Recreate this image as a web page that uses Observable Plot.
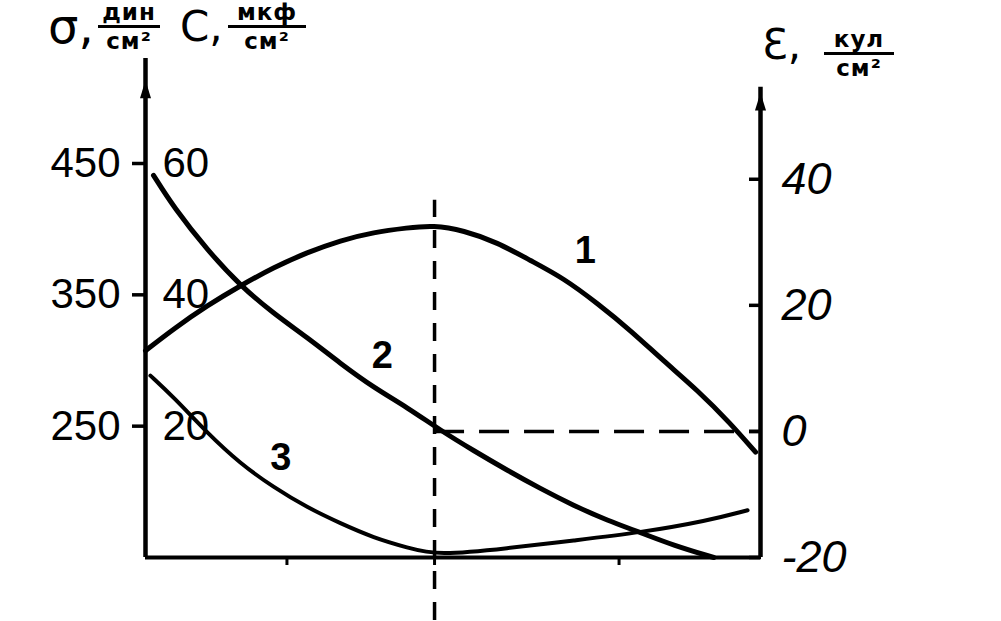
<!DOCTYPE html>
<html>
<head>
<meta charset="utf-8">
<script src="https://cdn.jsdelivr.net/npm/d3@7"></script>
<script src="https://cdn.jsdelivr.net/npm/@observablehq/plot@0.6"></script>
<style>
  body { margin: 0; background: #fff; }
  #wrap { position: relative; width: 1001px; height: 621px; color: #000; font-family: "Liberation Sans", "DejaVu Sans", sans-serif; }
  #wrap svg { position: absolute; left: 0; top: 0; overflow: visible; }
  .t { position: absolute; white-space: nowrap; line-height: 1; font-family: "DejaVu Sans", sans-serif; }
  .frac { position: absolute; display: flex; flex-direction: column; align-items: center; font: bold 23px "DejaVu Sans", sans-serif; line-height: 1; letter-spacing: 1px; }
  .frac .num { width: 100%; text-align: center; border-bottom: 3px solid #000; padding-bottom: 1px; }
  .frac .den { text-align: center; padding-top: 2px; }
</style>
</head>
<body>
<div id="wrap"></div>
<script>
// ---------- data ----------
// horizontal axis: unlabelled, arbitrary units 0..100 between the two vertical axes
const xTicks = [23, 47, 77];
const peakX = 47;               // dashed vertical line (maximum of curve 1)

// left outer scale: σ, дин/см²
const sigmaTicks = [250, 350, 450];
// left inner scale: C, мкф/см²
const cTicks = [20, 40, 60];
// right scale: Ɛ, кул/см²
const eTicks = [-20, 0, 20, 40];

// curve 1 (right scale, Ɛ)
const curve1X = [0, 4.6, 10.1, 15.4, 20.8, 26.3, 31.7, 37.1, 42.6, 46.8, 51.7, 57.2, 62.6, 68.0, 73.5, 78.9, 84.2, 89.8, 95.1, 99.2];
const curve1E = [12.8, 16.3, 20.0, 23.1, 26.0, 28.4, 30.3, 31.6, 32.3, 32.7, 31.9, 30.0, 27.1, 24.3, 20.3, 16.0, 11.2, 6.5, 1.3, -3.3];

// curve 2 (left outer scale, σ)
const curve2X = [1.3, 4.6, 10.1, 15.4, 20.8, 26.3, 31.7, 37.1, 42.6, 48.0, 53.3, 58.9, 64.2, 69.6, 75.1, 80.5, 85.9, 92.4];
const curve2S = [441, 416.5, 383.8, 357.1, 335.8, 317.5, 297.7, 279.4, 264.2, 246.7, 231.5, 216.2, 202.5, 189.6, 178.2, 169, 159.1, 150];

// curve 3 (left inner scale, C)
const curve3X = [0.8, 4.6, 10.1, 15.4, 20.8, 26.3, 31.7, 37.1, 42.6, 47.5, 58.9, 69.6, 80.5, 91.4, 97.9];
const curve3C = [27.7, 24.4, 18.9, 14.3, 10.7, 7.6, 5.2, 3.0, 1.5, 0.3, 1.4, 2.6, 3.8, 5.6, 7.2];

// curve number labels
const curveNames = ["1", "2", "3"];
const curveLabelX = [71.5, 38.5, 22.0];
const curveLabelS = [383.8, 303.8, 226.1];

// ---------- scale conversions onto the shared (σ) vertical scale ----------
const sFromE = e => 150 + 4.8 * (e + 20);
const sFromC = c => 150 + 5 * c;

const curve1 = curve1X.map((x, i) => ({x, s: sFromE(curve1E[i])}));
const curve2 = curve2X.map((x, i) => ({x, s: curve2S[i]}));
const curve3 = curve3X.map((x, i) => ({x, s: sFromC(curve3C[i])}));
const labels = curveNames.map((t, i) => ({t, x: curveLabelX[i], s: curveLabelS[i]}));

const arrowHead = {
  draw(ctx) {
    ctx.moveTo(0, -11);
    ctx.lineTo(5.5, 7);
    ctx.lineTo(-5.5, 7);
    ctx.closePath();
  }
};

const chart = Plot.plot({
  width: 1001,
  height: 621,
  marginLeft: 145,
  marginRight: 241,
  marginTop: 163,
  marginBottom: 64,
  x: {domain: [0, 100], axis: null},
  y: {domain: [150, 450], axis: null},
  style: {background: "#fff", color: "#000", fontFamily: "'Liberation Sans', sans-serif", overflow: "visible"},
  marks: [
    // axis lines
    Plot.ruleX([0], {y1: 150, y2: 530, stroke: "#000", strokeWidth: 4.5}),
    Plot.ruleX([100], {y1: 150, y2: sFromE(54.6), stroke: "#000", strokeWidth: 4.5}),
    Plot.ruleY([150], {stroke: "#000", strokeWidth: 4}),
    Plot.dot([{x: 0, s: 505}, {x: 100, s: sFromE(52)}], {x: "x", y: "s", symbol: arrowHead, fill: "#000", stroke: "none"}),

    // left σ axis
    Plot.axisY(sigmaTicks, {anchor: "left", label: null, tickSize: 13, tickPadding: 12, fontSize: 42, strokeWidth: 3.5, tickFormat: d => String(d)}),
    // left inner C labels
    Plot.text(cTicks, {frameAnchor: "left", y: sFromC, text: d => String(d), textAnchor: "start", dx: 17, fontSize: 42}),
    // right Ɛ axis
    Plot.axisY(eTicks.map(sFromE), {anchor: "right", label: null, tickSize: -12, tickPadding: 33, fontSize: 45, fontStyle: "italic", strokeWidth: 3.5,
      tickFormat: s => String(Math.round((s - 150) / 4.8 - 20))}),
    // bottom ticks (no labels)
    Plot.axisX(xTicks, {anchor: "bottom", label: null, tickSize: 8, strokeWidth: 3, tickFormat: () => ""}),

    // dashed guide lines
    Plot.ruleX([peakX], {y1: 102, y2: 422, stroke: "#000", strokeWidth: 3.5, strokeDasharray: "18,13"}),
    Plot.ruleY([sFromE(0)], {x1: peakX, x2: 100, stroke: "#000", strokeWidth: 3.5, strokeDasharray: "30,15"}),

    // curves
    Plot.line(curve1, {x: "x", y: "s", curve: "basis", stroke: "#000", strokeWidth: 5}),
    Plot.line(curve2, {x: "x", y: "s", curve: "basis", stroke: "#000", strokeWidth: 5}),
    Plot.line(curve3, {x: "x", y: "s", curve: "basis", stroke: "#000", strokeWidth: 4}),

    // curve numbers
    Plot.text(labels, {x: "x", y: "s", text: "t", fontSize: 38, fontWeight: "bold"})
  ]
});

const wrap = document.getElementById("wrap");
wrap.appendChild(chart);

function addText(txt, left, top, size) {
  const d = document.createElement("div");
  d.className = "t";
  d.textContent = txt;
  d.style.left = left + "px";
  d.style.top = top + "px";
  d.style.fontSize = size + "px";
  wrap.appendChild(d);
}
function addFrac(num, den, left, top, width) {
  const d = document.createElement("div");
  d.className = "frac";
  d.style.left = left + "px";
  d.style.top = top + "px";
  d.style.width = width + "px";
  d.innerHTML = `<div class="num">${num}</div><div class="den">${den}</div>`;
  wrap.appendChild(d);
}

// left title: σ, дин/см²   C, мкф/см²
addText("σ,", 48, 2, 48);
addFrac("дин", "см²", 98, 1, 62);
addText("C,", 180, 6, 42);
addFrac("мкф", "см²", 228, 1, 78);
// right title: Ɛ, кул/см²
addText("Ɛ,", 762, 24, 42);
addFrac("кул", "см²", 824, 28, 70);
</script>
</body>
</html>
